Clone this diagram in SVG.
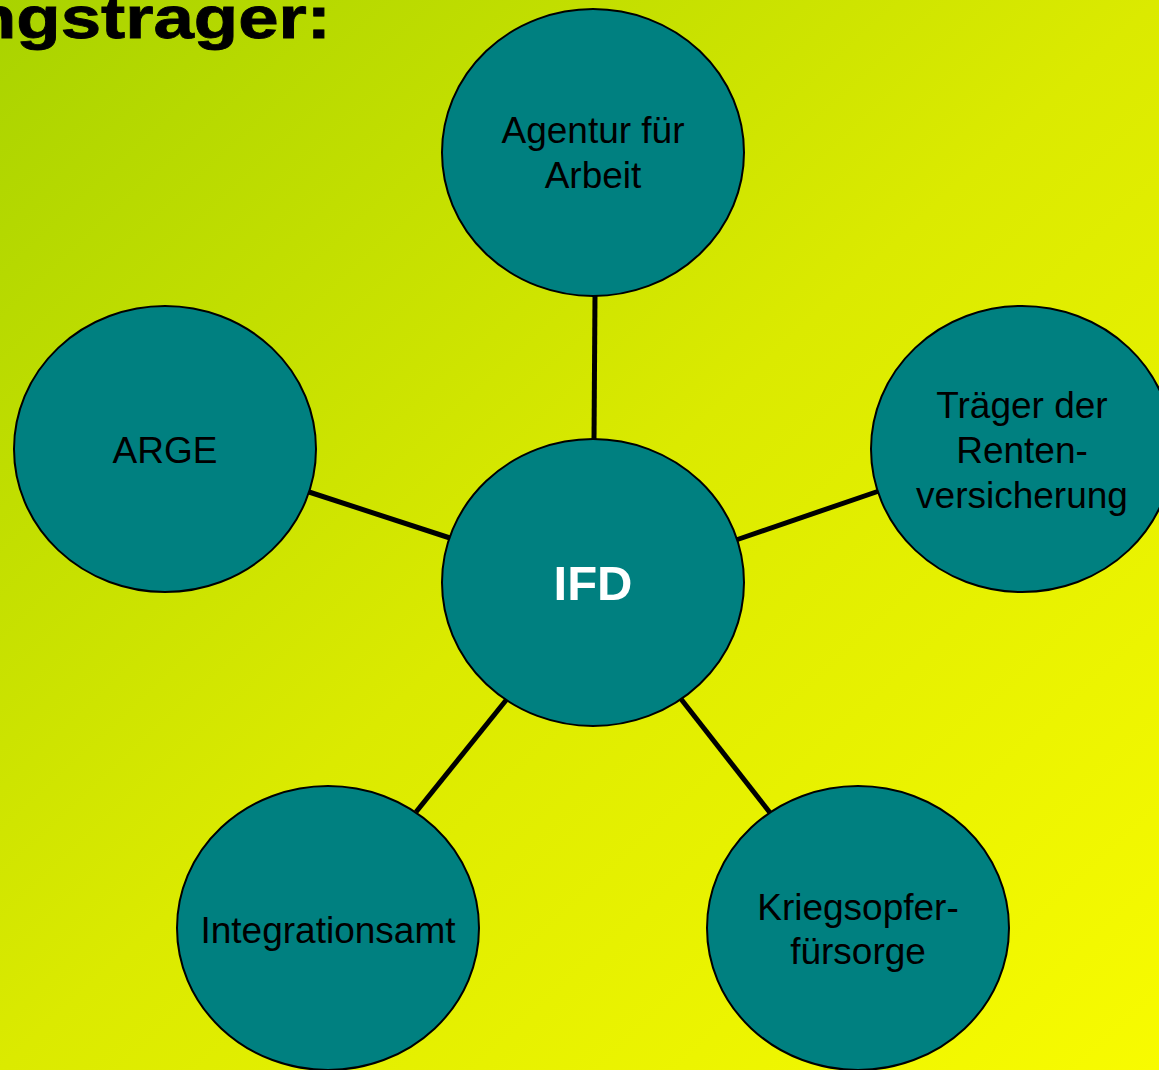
<svg xmlns="http://www.w3.org/2000/svg" width="1159" height="1070" viewBox="0 0 1159 1070">
<defs>
<linearGradient id="bg" x1="0" y1="0" x2="1" y2="1">
<stop offset="0" stop-color="#a9d300"/>
<stop offset="0.5" stop-color="#dbea00"/>
<stop offset="1" stop-color="#f8fb00"/>
</linearGradient>
</defs>
<style>
.node{fill:#008080;stroke:#000;stroke-width:2}
.lbl{font-family:"Liberation Sans",Arial,sans-serif;font-size:37px;fill:#000;text-anchor:middle}
.hub{font-family:"Liberation Sans",Arial,sans-serif;font-size:49px;font-weight:bold;fill:#fff;text-anchor:middle}
.conn line{stroke:#000;stroke-width:5}
.title{font-family:"Liberation Sans",Arial,sans-serif;font-size:60px;font-weight:bold;fill:#000;stroke:#000;stroke-width:0.8}
</style>
<rect width="1159" height="1070" fill="url(#bg)"/>
<text class="title" x="-28" y="38" textLength="359" lengthAdjust="spacingAndGlyphs">ngstrager:</text>
<g id="connectors" class="conn">
<line x1="595" y1="296" x2="594" y2="440"/>
<line x1="309" y1="492" x2="450" y2="538"/>
<line x1="736" y1="540" x2="879" y2="491"/>
<line x1="416" y1="812" x2="507" y2="699"/>
<line x1="681" y1="699" x2="771" y2="814"/>
</g>
<g id="node-ifd">
<ellipse class="node" cx="593" cy="582.5" rx="151" ry="143.5"/>
<text class="hub" x="593" y="600">IFD</text>
</g>
<g id="node-agentur">
<ellipse class="node" cx="593" cy="152.5" rx="151" ry="143.5"/>
<text class="lbl" x="593" y="143">Agentur für</text>
<text class="lbl" x="593" y="188">Arbeit</text>
</g>
<g id="node-arge">
<ellipse class="node" cx="165" cy="449" rx="151" ry="143"/>
<text class="lbl" x="165" y="463">ARGE</text>
</g>
<g id="node-traeger">
<ellipse class="node" cx="1022" cy="449" rx="151" ry="143"/>
<text class="lbl" x="1022" y="418">Träger der</text>
<text class="lbl" x="1022" y="463">Renten-</text>
<text class="lbl" x="1022" y="508">versicherung</text>
</g>
<g id="node-integrationsamt">
<ellipse class="node" cx="328" cy="928" rx="151" ry="142"/>
<text class="lbl" x="328" y="943">Integrationsamt</text>
</g>
<g id="node-kriegsopfer">
<ellipse class="node" cx="858" cy="928" rx="151" ry="142"/>
<text class="lbl" x="858" y="920">Kriegsopfer-</text>
<text class="lbl" x="858" y="964">fürsorge</text>
</g>
</svg>
